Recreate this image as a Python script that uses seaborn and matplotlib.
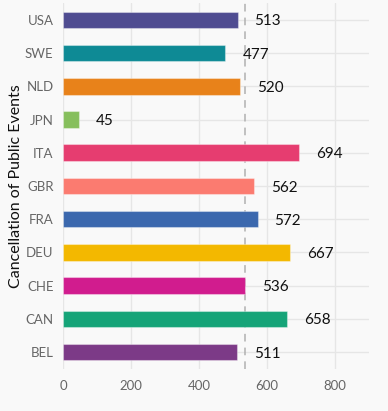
import matplotlib
matplotlib.use("Agg")
import matplotlib.pyplot as plt
import seaborn as sns
import pandas as pd
import numpy as np

countries = ["USA", "SWE", "NLD", "JPN", "ITA", "GBR", "FRA", "DEU", "CHE", "CAN", "BEL"]
values = [513, 477, 520, 45, 694, 562, 572, 667, 536, 658, 511]
colors = ["#4f4c91", "#0e8a95", "#e8821a", "#86bf5c", "#e63d70", "#fb7b70",
          "#3b68ae", "#f3b800", "#d11c8e", "#15a478", "#7c3a87"]

sns.set_theme(style="whitegrid")
plt.rcParams['font.family'] = ['Lato', 'DejaVu Sans']

df = pd.DataFrame({"country": countries, "value": values})

fig = plt.figure(figsize=(3.88, 4.11), dpi=100, facecolor="#f9f9f9")
ax = fig.add_axes([63.3 / 388, 1 - 368.6 / 411, (369 - 63.3) / 388, (368.6 - 3.4) / 411])
ax.set_facecolor("#f9f9f9")

sns.barplot(data=df, x="value", y="country", hue="country", palette=colors,
            saturation=1, legend=False, width=0.5, ax=ax, linewidth=0.8)
for p in ax.patches:
    p.set_edgecolor((1, 1, 1, 0.35))
    p.set_zorder(3)

# value labels
for i, v in enumerate(values):
    ax.text(v + 50, i, str(v), va="center_baseline", ha="left", fontsize=11, color="#111111")

# median line, behind the bars
ax.axvline(np.median(values), color="#b0b0b0", linestyle=(0, (5, 4)), linewidth=1.1, zorder=1)

ax.set_xlim(0, 900)
ax.set_xticks([0, 200, 400, 600, 800])
ax.grid(True, color="#e6e6e6", linewidth=1)
ax.set_axisbelow(True)
for s in ax.spines.values():
    s.set_visible(False)
ax.tick_params(axis="both", length=0, labelsize=9.5, labelcolor="#666666")
ax.tick_params(axis="y", pad=7)
ax.tick_params(axis="x", pad=8)
ax.set_xlabel("")
ax.set_ylabel("Cancellation of Public Events", fontsize=11.5, color="#111111")
ax.yaxis.set_label_coords(-0.132, 0.5)

fig.savefig("out.png", dpi=100, facecolor=fig.get_facecolor())
